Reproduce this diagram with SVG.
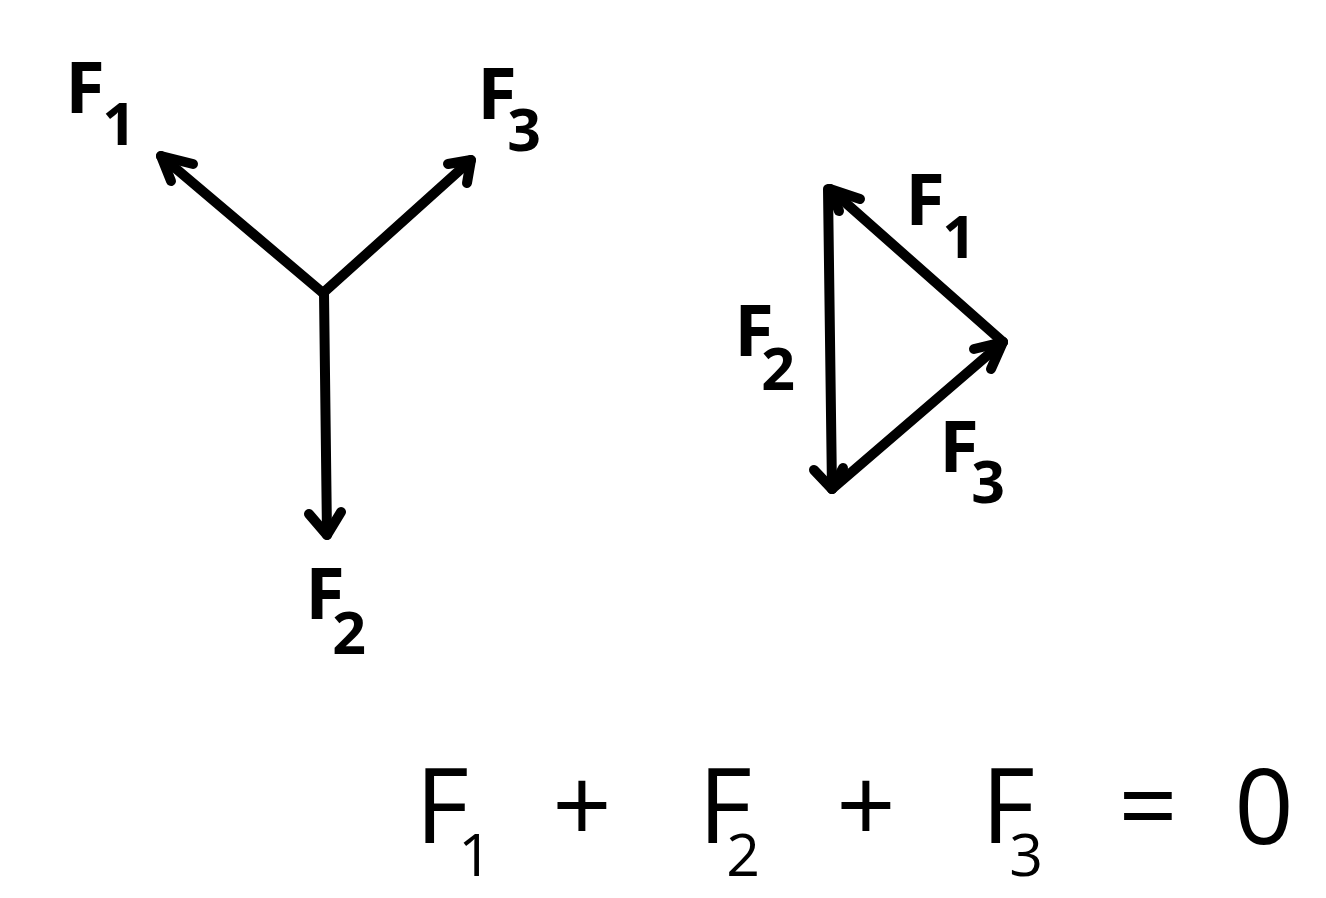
<svg xmlns="http://www.w3.org/2000/svg" width="1326" height="898" viewBox="0 0 1326 898">
<style>
.v{fill:none;stroke:#000;stroke-width:10;stroke-linecap:round;stroke-linejoin:round}
.lb{font-family:"Open Sans","Liberation Sans",sans-serif;font-weight:bold;fill:#000;text-anchor:middle;font-size:72px}
.s{font-size:59px}
.eq{font-family:"Open Sans","Liberation Sans",sans-serif;fill:#000;text-anchor:middle;font-size:104px}
</style>
<rect width="1326" height="898" fill="#fff"/>
<g id="connectors">
  <g id="left-F1"><path class="v" d="M323,293 L161,156"/><polyline class="v" points="193,164 161,156 171,181"/></g>
  <g id="left-F3"><path class="v" d="M323,293 L471,160"/><polyline class="v" points="448,164 471,160 467,183"/></g>
  <g id="left-F2"><path class="v" d="M324,293 L327,535"/><polyline class="v" points="309,514 327,535 341,512"/></g>
  <g id="tri-F2"><path class="v" d="M828,189 L832,489"/><polyline class="v" points="814,470 832,489 843,468"/></g>
  <g id="tri-F3"><path class="v" d="M832,489 L1003,342"/><polyline class="v" points="974,349 1003,342 991,369"/></g>
  <g id="tri-F1"><path class="v" d="M1003,342 L830,189"/><polyline class="v" points="860,199 830,189 839,211"/></g>
</g>
<g id="label-left-F1"><text class="lb"><tspan x="85" y="113">F</tspan><tspan class="s" x="119" y="145">1</tspan></text></g>
<g id="label-left-F3"><text class="lb"><tspan x="497" y="119">F</tspan><tspan class="s" x="524" y="151">3</tspan></text></g>
<g id="label-left-F2"><text class="lb"><tspan x="325" y="619">F</tspan><tspan class="s" x="349" y="654">2</tspan></text></g>
<g id="label-tri-F1"><text class="lb"><tspan x="925" y="225">F</tspan><tspan class="s" x="959" y="258">1</tspan></text></g>
<g id="label-tri-F2"><text class="lb"><tspan x="754" y="356">F</tspan><tspan class="s" x="778" y="390">2</tspan></text></g>
<g id="label-tri-F3"><text class="lb"><tspan x="959" y="472">F</tspan><tspan class="s" x="988" y="503">3</tspan></text></g>
<g id="equation">
  <text class="eq"><tspan x="442" y="843">F</tspan><tspan class="s" x="475" y="876">1</tspan><tspan x="582" y="843">+</tspan><tspan x="725" y="843">F</tspan><tspan class="s" x="743" y="876">2</tspan><tspan x="866" y="843">+</tspan><tspan x="1008" y="843">F</tspan><tspan class="s" x="1026" y="876">3</tspan><tspan x="1148" y="843">=</tspan><tspan x="1264" y="844">0</tspan></text>
</g>
</svg>
